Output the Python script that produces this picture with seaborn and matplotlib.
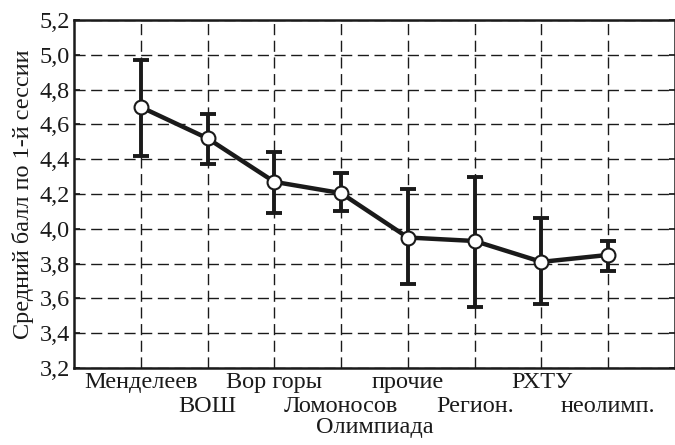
import matplotlib
matplotlib.use("Agg")
import matplotlib.pyplot as plt
import seaborn as sns
import pandas as pd
from matplotlib.ticker import FuncFormatter

categories = ["Менделеев", "ВОШ", "Вор горы", "Ломоносов", "прочие", "Регион.", "РХТУ", "неолимп."]
means = [4.70, 4.52, 4.27, 4.205, 3.95, 3.93, 3.81, 3.85]
upper = [4.97, 4.66, 4.44, 4.32, 4.23, 4.30, 4.06, 3.93]
lower = [4.42, 4.37, 4.09, 4.10, 3.68, 3.55, 3.57, 3.76]
y_ticks = [3.2, 3.4, 3.6, 3.8, 4.0, 4.2, 4.4, 4.6, 4.8, 5.0, 5.2]

sns.set_theme(style="white")
plt.rcParams['font.family'] = ['Liberation Serif', 'DejaVu Serif']

df = pd.DataFrame({"x": range(len(categories)), "y": means})

fig = plt.figure(figsize=(6.75, 4.45), dpi=100)
ax = fig.add_axes([0.1096, 0.173, 0.8904, 0.782])

err_lo = [m - l for m, l in zip(means, lower)]
err_hi = [u - m for m, u in zip(means, upper)]
ax.errorbar(df["x"], df["y"], yerr=[err_lo, err_hi], fmt="none", ecolor="#1a1a1a",
            elinewidth=2.8, capsize=6, capthick=2.8, zorder=3)
sns.lineplot(data=df, x="x", y="y", ax=ax, color="#1a1a1a", linewidth=3.2,
             marker="o", markersize=10, markerfacecolor="white",
             markeredgecolor="#1a1a1a", markeredgewidth=1.5, zorder=4)

ax.set_xlim(-1, 8)
ax.set_ylim(3.2, 5.2)
ax.set_yticks(y_ticks)
ax.yaxis.set_major_formatter(FuncFormatter(lambda v, p: f"{v:.1f}".replace(".", ",")))

even = [i for i in range(len(categories)) if i % 2 == 0]
odd = [i for i in range(len(categories)) if i % 2 == 1]
ax.set_xticks(even)
ax.set_xticklabels([categories[i] for i in even])
ax.set_xticks(odd, minor=True)
ax.set_xticklabels([categories[i] for i in odd], minor=True)

ax.grid(True, which="both", axis="x", color="#1a1a1a", linestyle=(0, (8, 4)), linewidth=1)
ax.grid(True, which="major", axis="y", color="#1a1a1a", linestyle=(0, (8, 4)), linewidth=1)
for s in ax.spines.values():
    s.set_color("#1a1a1a")
    s.set_linewidth(1.8)
ax.tick_params(axis="both", which="both", labelsize=17.5, colors="#1a1a1a", direction="in", length=4)
ax.tick_params(axis="x", which="major", length=0, pad=3)
ax.tick_params(axis="x", which="minor", length=0, pad=20)
ax.tick_params(axis="y", right=True, left=True, pad=3)
ax.set_xlabel("Олимпиада", fontsize=17.5, color="#1a1a1a", labelpad=0)
ax.set_ylabel("Средний балл по 1-й сессии", fontsize=17.5, color="#1a1a1a", labelpad=4)

fig.savefig("out.png", dpi=100)
